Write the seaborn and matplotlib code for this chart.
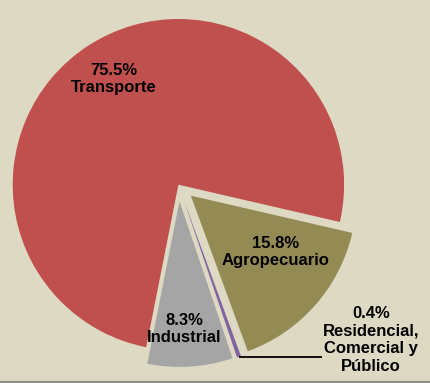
import matplotlib
matplotlib.use("Agg")
import matplotlib.pyplot as plt
import seaborn as sns
import numpy as np
from matplotlib.lines import Line2D

# ---- data ----
sectors = ["Agropecuario", "Residencial,\nComercial y\nPúblico", "Industrial", "Transporte"]
shares = [15.8, 0.4, 8.3, 75.5]
pct_labels = ["15.8%", "0.4%", "8.3%", "75.5%"]

# ---- style ----
colors = ["#948A54", "#8064A2", "#A5A5A5", "#C0504D"]
explode = [0.1, 0.1, 0.1, 0.0]
bg = "#DDD9C3"

sns.set_style("white", {"axes.facecolor": bg, "figure.facecolor": bg})
plt.rcParams["font.family"] = ["Liberation Sans", "DejaVu Sans"]

fig = plt.figure(figsize=(4.30, 3.83), dpi=100)
fig.patch.set_facecolor(bg)
ax = fig.add_axes([0, 0, 1, 1])
ax.set_facecolor(bg)

wedges, _ = ax.pie(shares, colors=colors, explode=explode, startangle=-13,
                   counterclock=False, radius=1.0,
                   wedgeprops=dict(linewidth=0))

R_PX = 165.7
cx, cy = 178.4, 184.7
W, H = 430, 383
ax.set_xlim(-cx / R_PX, (W - cx) / R_PX)
ax.set_ylim(-(H - cy) / R_PX, cy / R_PX)
ax.set_aspect("auto")
ax.axis("off")

def px(x, y):
    return ((x - cx) / R_PX, (cy - y) / R_PX)

fs = 12
txt = dict(ha="center", va="center", fontsize=fs, fontweight="bold",
           color="black", linespacing=1.2)

# label positions (pixel coords of block centres)
pos = {0: (276, 252), 1: (371, 340), 2: (184, 329), 3: (114, 79)}
for i in range(len(shares)):
    x, y = px(*pos[i])
    ax.text(x, y, pct_labels[i] + "\n" + sectors[i], **txt)

# leader line for the small slice
w = wedges[1]
mid = np.deg2rad((w.theta1 + w.theta2) / 2)
ox, oy = w.center
sx, sy = ox + w.r * np.cos(mid), oy + w.r * np.sin(mid)
ex, _ = px(322, 0)
ax.plot([sx, ex], [sy, sy], color="black", linewidth=1.3, solid_capstyle="butt")

# bottom border
fig.add_artist(Line2D([0, 1], [1.5 / H, 1.5 / H], color="#8C8C8C",
                      linewidth=1.6, transform=fig.transFigure))

fig.savefig("out.png", dpi=100, facecolor=bg)
